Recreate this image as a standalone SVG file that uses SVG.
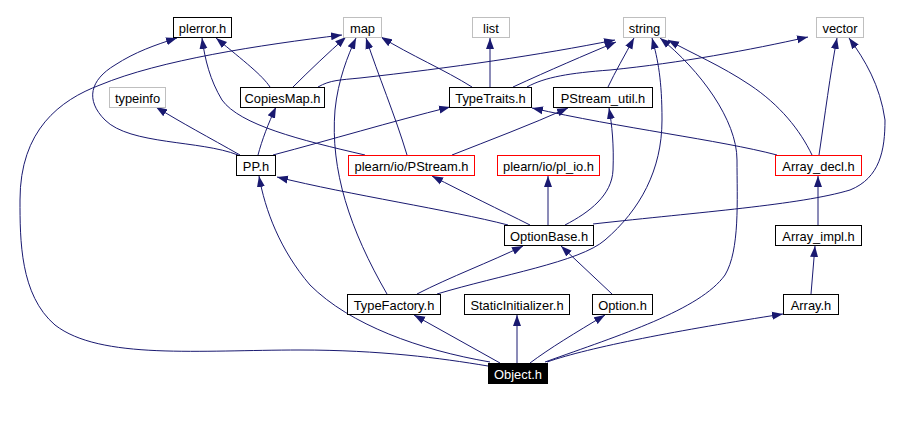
<svg xmlns="http://www.w3.org/2000/svg" width="916" height="422" viewBox="0 0 916 422">
<style>
.e{fill:none;stroke:#191970;stroke-width:1;marker-end:url(#ah)}
.n rect{fill:#fff;stroke:#000;stroke-width:1}
.g rect{stroke:#bfbfbf}
.r rect{stroke:#ff0000}
.n text{font-family:"Liberation Sans",Arial,Helvetica,sans-serif;font-size:12.9px;text-anchor:middle;fill:#000}
.k rect{fill:#000;stroke:#000}
.k text{fill:#fff}
</style>
<defs>
<marker id="ah" markerWidth="11" markerHeight="9" refX="11" refY="4.5" orient="auto" markerUnits="userSpaceOnUse">
<path d="M0,0.5 L11,4.5 L0,8.5 z" fill="#191970"/>
</marker>
</defs>
<rect width="916" height="422" fill="#fff"/>
<g id="edges">
<path class="e" d="M500,363 L414,315"/>
<path class="e" d="M517,363 L517,315"/>
<path class="e" d="M530,363 C550,348 575,333 605,315"/>
<path class="e" d="M547,362 C590,347 680,330 783,314"/>
<path class="e" d="M545,362 C620,335 700,310 725,275 C740,250 737,200 737,160 C737,120 700,70 660,38"/>
<path class="e" d="M490,362 C420,350 350,325 310,285 C280,250 265,210 259,176"/>
<path class="e" d="M488,366 C440,358 380,350 300,350 C200,350 100,360 55,325 C20,295 20,240 20,200 C20,130 60,100 100,85 C160,60 260,45 342,35"/>
<path class="e" d="M238,155 C200,140 130,145 105,120 C85,100 90,80 115,65 C135,52 155,45 177,38"/>
<path class="e" d="M365,155 C300,140 240,125 222,100 C210,80 205,60 202,38"/>
<path class="e" d="M407,155 C395,115 378,75 366,38"/>
<path class="e" d="M452,155 C490,140 530,125 568,108"/>
<path class="e" d="M387,294 C350,230 330,170 335,110 C338,80 348,55 356,38"/>
<path class="e" d="M417,294 C450,277 490,262 523,246"/>
<path class="e" d="M437,294 C500,275 580,262 605,240 C640,210 662,170 662,120 C662,80 658,60 652,38"/>
<path class="e" d="M612,294 L561,246"/>
<path class="e" d="M508,225 C450,210 350,195 277,177"/>
<path class="e" d="M530,225 C500,210 465,193 432,176"/>
<path class="e" d="M548,225 L548,176"/>
<path class="e" d="M565,225 C590,212 612,195 613,170 C614,145 612,125 609,108"/>
<path class="e" d="M593,224 C700,212 800,205 850,190 C880,178 885,150 885,120 C880,85 865,60 849,38"/>
<path class="e" d="M240,155 C210,138 180,122 156,107"/>
<path class="e" d="M258,155 C262,140 268,124 276,107"/>
<path class="e" d="M273,155 C330,140 390,122 450,107"/>
<path class="e" d="M270,87 C262,75 245,62 216,38"/>
<path class="e" d="M293,87 C310,70 328,53 346,37"/>
<path class="e" d="M318,87 C330,80 340,80 360,78 C450,68 540,55 615,40"/>
<path class="e" d="M472,87 C445,70 410,55 381,37"/>
<path class="e" d="M490,87 L490,38"/>
<path class="e" d="M513,87 C550,70 585,55 616,42"/>
<path class="e" d="M527,87 C545,77 570,73 610,70 C680,63 750,50 808,37"/>
<path class="e" d="M608,87 C615,72 625,55 634,38"/>
<path class="e" d="M777,155 C720,140 620,128 532,108"/>
<path class="e" d="M812,155 C800,130 780,105 750,85 C720,65 695,55 668,40"/>
<path class="e" d="M819,155 C825,115 830,75 837,38"/>
<path class="e" d="M818,225 L818,176"/>
<path class="e" d="M811,294 L815,246"/>
</g>
<g id="n-plerror" class="n"><rect x="173.5" y="17.5" width="58" height="20"/><text x="202.5" y="33">plerror.h</text></g>
<g id="n-map" class="n g"><rect x="343.5" y="17.5" width="38" height="20"/><text x="362.5" y="33">map</text></g>
<g id="n-list" class="n g"><rect x="472.5" y="17.5" width="37" height="20"/><text x="491" y="33">list</text></g>
<g id="n-string" class="n g"><rect x="623.5" y="17.5" width="42" height="20"/><text x="644.5" y="33">string</text></g>
<g id="n-vector" class="n g"><rect x="816.5" y="17.5" width="47" height="20"/><text x="840" y="33">vector</text></g>
<g id="n-typeinfo" class="n g"><rect x="109.5" y="87.5" width="56" height="20"/><text x="137.5" y="103">typeinfo</text></g>
<g id="n-copiesmap" class="n"><rect x="240.5" y="87.5" width="84" height="20"/><text x="282.5" y="103">CopiesMap.h</text></g>
<g id="n-typetraits" class="n"><rect x="449.5" y="87.5" width="82" height="20"/><text x="490.5" y="103">TypeTraits.h</text></g>
<g id="n-pstreamutil" class="n"><rect x="553.5" y="87.5" width="99" height="20"/><text x="603" y="103">PStream_util.h</text></g>
<g id="n-pp" class="n"><rect x="236.5" y="155.5" width="39" height="20"/><text x="256" y="171">PP.h</text></g>
<g id="n-pstream" class="n r"><rect x="348.5" y="155.5" width="126" height="20"/><text x="411.5" y="171">plearn/io/PStream.h</text></g>
<g id="n-plio" class="n r"><rect x="497.5" y="155.5" width="102" height="20"/><text x="548.5" y="171">plearn/io/pl_io.h</text></g>
<g id="n-arraydecl" class="n r"><rect x="775.5" y="155.5" width="86" height="20"/><text x="818.5" y="171">Array_decl.h</text></g>
<g id="n-optionbase" class="n"><rect x="504.5" y="225.5" width="89" height="20"/><text x="549" y="241">OptionBase.h</text></g>
<g id="n-arrayimpl" class="n"><rect x="775.5" y="225.5" width="86" height="20"/><text x="818.5" y="241">Array_impl.h</text></g>
<g id="n-typefactory" class="n"><rect x="347.5" y="294.5" width="93" height="20"/><text x="394" y="310">TypeFactory.h</text></g>
<g id="n-staticinit" class="n"><rect x="464.5" y="294.5" width="105" height="20"/><text x="517" y="310">StaticInitializer.h</text></g>
<g id="n-option" class="n"><rect x="592.5" y="294.5" width="60" height="20"/><text x="622.5" y="310">Option.h</text></g>
<g id="n-array" class="n"><rect x="783.5" y="294.5" width="55" height="20"/><text x="811" y="310">Array.h</text></g>
<g id="n-object" class="n k"><rect x="488.5" y="363.5" width="59" height="20"/><text x="518" y="379">Object.h</text></g>
</svg>
